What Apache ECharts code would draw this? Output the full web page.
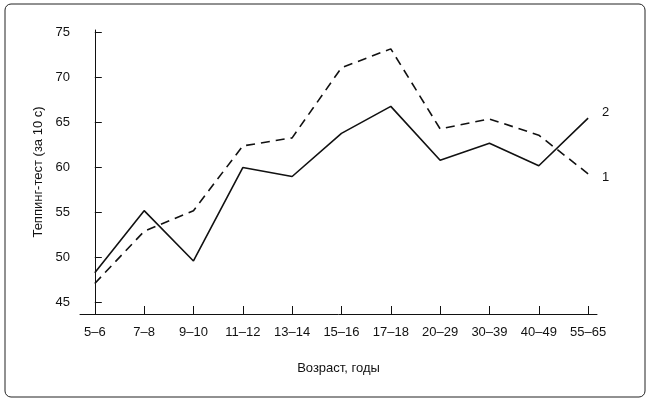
<!DOCTYPE html><html><head><meta charset="utf-8"><script src="https://cdn.jsdelivr.net/npm/echarts@6/dist/echarts.min.js"></script></head><body style="margin:0;background:#fff"><div id="c" style="width:651px;height:402px"></div><script>
var categories=['5–6','7–8','9–10','11–12','13–14','15–16','17–18','20–29','30–39','40–49','55–65'];
var series2=[48.3,55.2,49.6,60.0,59.0,63.8,66.8,60.8,62.7,60.2,65.5];
var series1=[47.1,52.9,55.2,62.4,63.3,71.1,73.2,64.3,65.4,63.6,59.3];
var yTicks=[45,50,55,60,65,70,75];
var ch=echarts.init(document.getElementById('c'));
var F='Liberation Sans, Arial, sans-serif';
function pts(a){return a.map(function(v,i){return [i,v];});}
ch.setOption({
animation:false,
graphic:[{type:'rect',shape:{x:5,y:4,width:640,height:393,r:6},style:{fill:'none',stroke:'#222',lineWidth:1}}],
grid:{left:80,right:54,top:30,bottom:88},
xAxis:{type:'value',min:-0.3,max:10.18,splitLine:{show:false},
 axisLine:{lineStyle:{color:'#111'}},
 axisTick:{inside:true,length:8,customValues:categories.map(function(c,i){return i;}),lineStyle:{color:'#111'}},
 axisLabel:{customValues:categories.map(function(c,i){return i;}),formatter:function(v){return categories[Math.round(v)];},color:'#111',fontSize:13,fontFamily:F,margin:12},
 name:'Возраст, годы',nameLocation:'middle',nameGap:48,nameTextStyle:{color:'#111',fontSize:13,fontFamily:F}},
yAxis:{type:'value',min:43.7,max:75.3,splitLine:{show:false},
 axisLine:{show:true,lineStyle:{color:'#111'}},
 axisTick:{show:true,inside:true,length:7,customValues:yTicks,lineStyle:{color:'#111'}},
 axisLabel:{customValues:yTicks,color:'#111',fontSize:13,fontFamily:F,margin:10},
 name:'Теппинг-тест (за 10 с)',nameLocation:'middle',nameGap:35,nameTextStyle:{color:'#111',fontSize:13,fontFamily:F}},
series:[
{type:'line',data:pts(series2),symbol:'none',lineStyle:{color:'#111',width:1.6},endLabel:{show:true,formatter:'2',color:'#111',fontSize:13,fontFamily:F,offset:[6,-6]}},
{type:'line',data:pts(series1),symbol:'none',lineStyle:{color:'#111',width:1.6,type:[9,6]},endLabel:{show:true,formatter:'1',color:'#111',fontSize:13,fontFamily:F,offset:[6,4]}}
]});
</script></body></html>
